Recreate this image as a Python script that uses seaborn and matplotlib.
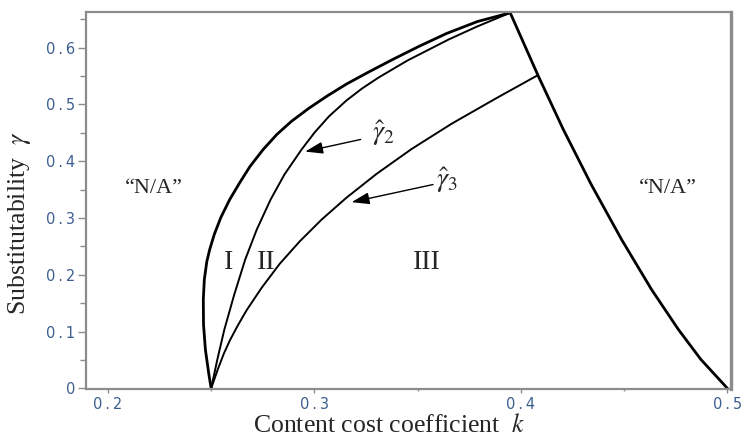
import matplotlib
matplotlib.use("Agg")
import matplotlib.pyplot as plt
import seaborn as sns
from matplotlib.ticker import FixedLocator

# Left boundary of the feasible region (thick), from the cusp up to the apex
k_outer = [0.2500, 0.2489, 0.2472, 0.2463, 0.2462, 0.2467, 0.2479, 0.2493, 0.2515,
           0.2547, 0.2590, 0.2639, 0.2689, 0.2752, 0.2818, 0.2888, 0.2972, 0.3062,
           0.3156, 0.3263, 0.3379, 0.3505, 0.3640, 0.3790, 0.3948]
g_outer = [0.0000, 0.0246, 0.0687, 0.1127, 0.1567, 0.1919, 0.2236, 0.2447, 0.2711,
           0.3011, 0.3327, 0.3627, 0.3914, 0.4208, 0.4472, 0.4701, 0.4930, 0.5150,
           0.5361, 0.5572, 0.5792, 0.6021, 0.6250, 0.6461, 0.6614]

# Threshold gamma-hat-2
k_hat2 = [0.2500, 0.2530, 0.2564, 0.2612, 0.2665, 0.2721, 0.2788, 0.2855, 0.2938,
          0.3001, 0.3070, 0.3155, 0.3231, 0.3311, 0.3451, 0.3650, 0.3788, 0.3948]
g_hat2 = [0.0000, 0.0511, 0.1039, 0.1655, 0.2271, 0.2799, 0.3327, 0.3768, 0.4208,
          0.4507, 0.4789, 0.5070, 0.5282, 0.5475, 0.5775, 0.6144, 0.6373, 0.6614]

# Threshold gamma-hat-3
k_hat3 = [0.2500, 0.2532, 0.2561, 0.2590, 0.2629, 0.2672, 0.2745, 0.2832, 0.2929,
          0.3035, 0.3156, 0.3301, 0.3471, 0.3664, 0.3882, 0.4082]
g_hat3 = [0.0000, 0.0335, 0.0609, 0.0842, 0.1109, 0.1379, 0.1775, 0.2195, 0.2590,
          0.2974, 0.3361, 0.3778, 0.4217, 0.4660, 0.5113, 0.5516]

# Right boundary of the feasible region (thick)
k_right = [0.3948, 0.4082, 0.4205, 0.4340, 0.4487, 0.4632, 0.4762, 0.4871, 0.5000]
g_right = [0.6614, 0.5516, 0.4560, 0.3592, 0.2623, 0.1743, 0.1039, 0.0511, 0.0000]

x_ticks = [0.2, 0.3, 0.4, 0.5]
x_tick_labels = ["0.2", "0.3", "0.4", "0.5"]
x_minor = [0.25, 0.35, 0.45]
y_ticks = [0.0, 0.1, 0.2, 0.3, 0.4, 0.5, 0.6]
y_tick_labels = ["0", "0.1", "0.2", "0.3", "0.4", "0.5", "0.6"]
y_minor = [0.05, 0.15, 0.25, 0.35, 0.45, 0.55, 0.65]

region_names = ["I", "II", "III"]
region_k = [0.2582, 0.2768, 0.3543]
region_g = [0.211, 0.211, 0.211]

na_k = [0.2223, 0.4709]
na_g = [0.3445, 0.3445]

sns.set_style("white")
plt.rcParams["font.family"] = ["Liberation Serif", "DejaVu Serif"]
plt.rcParams["mathtext.fontset"] = "stix"

fig = plt.figure(figsize=(7.41, 4.43), dpi=100)
ax = fig.add_axes([86 / 741, 1 - 389 / 443, 645 / 741, 377 / 443])

for ks, gs, w in [(k_outer, g_outer, 2.0), (k_hat2, g_hat2, 1.4),
                  (k_hat3, g_hat3, 1.4), (k_right, g_right, 2.0)]:
    sns.lineplot(x=ks, y=gs, sort=False, estimator=None, color="black",
                 linewidth=w, ax=ax, clip_on=False,
                 solid_joinstyle="round", solid_capstyle="round")

ax.set_xlim(0.1894, 0.5017)
ax.set_ylim(-0.001, 0.6628)

spine_col = "#8c8c8c"
for s in ax.spines.values():
    s.set_color(spine_col)
    s.set_linewidth(1.6)
ax.spines["right"].set_linewidth(2.4)


def spaced(label):
    # open up the digits a little, the way the axis numbers are set
    return "\u2009".join(label) if "." in label else label


tick_col = "#3d5f8f"
ax.xaxis.set_major_locator(FixedLocator(x_ticks))
ax.xaxis.set_minor_locator(FixedLocator(x_minor))
ax.yaxis.set_major_locator(FixedLocator(y_ticks))
ax.yaxis.set_minor_locator(FixedLocator(y_minor))
ax.set_xticklabels([spaced(t) for t in x_tick_labels])
ax.set_yticklabels([spaced(t) for t in y_tick_labels])
ax.tick_params(axis="both", which="both", direction="out", color=spine_col,
               width=1.0, labelcolor=tick_col, labelsize=10.5)
ax.tick_params(axis="y", which="major", length=6, pad=2)
ax.tick_params(axis="y", which="minor", length=4)
ax.tick_params(axis="x", which="major", length=3, pad=3)
ax.tick_params(axis="x", which="minor", length=1.5)
ax.tick_params(left=True, bottom=True, which="both")
for lbl in ax.get_xticklabels() + ax.get_yticklabels():
    lbl.set_fontfamily("DejaVu Sans")

ax.set_xlabel(r"Content cost coefficient  $k$", fontsize=18.5)
ax.set_ylabel(r"Substitutability  $\gamma$", fontsize=18.5)
ax.xaxis.set_label_coords(0.471, -0.066)
ax.yaxis.set_label_coords(-0.082, 0.439)

for name, kx, gy in zip(region_names, region_k, region_g):
    ax.text(kx, gy, name, fontsize=20, ha="center", va="baseline")
for kx, gy in zip(na_k, na_g):
    ax.text(kx, gy, "\u201cN/A\u201d", fontsize=16, ha="center", va="baseline")

arrow = dict(arrowstyle="-|>,head_length=0.9,head_width=0.3", color="black",
             lw=1.0, mutation_scale=12, shrinkA=0, shrinkB=0)
ax.annotate("", xy=(0.2955, 0.417), xytext=(0.3224, 0.4384), arrowprops=arrow)
ax.annotate("", xy=(0.3180, 0.328), xytext=(0.3574, 0.359), arrowprops=arrow)
ax.text(0.3277, 0.437, r"$\hat{\gamma}_2$", fontsize=20, va="baseline")
ax.text(0.3590, 0.354, r"$\hat{\gamma}_3$", fontsize=20, va="baseline")

fig.savefig("out.png", dpi=100)
